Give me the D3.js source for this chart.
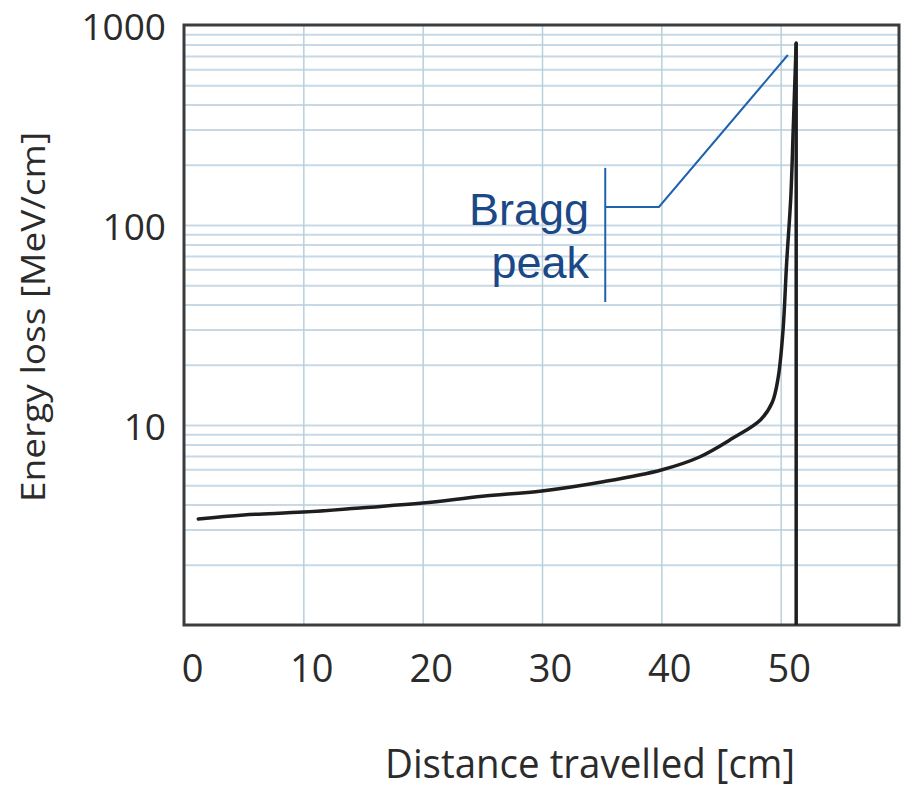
<!DOCTYPE html>
<html>
<head>
<meta charset="utf-8">
<script src="https://cdn.jsdelivr.net/npm/d3@7"></script>
<style>
  html, body { margin: 0; padding: 0; background: #ffffff; }
  svg { display: block; }
</style>
</head>
<body>
<svg id="chart" width="903" height="792"></svg>
<script>
// ---- Data ----
const distance   = [1.2, 5, 10, 15, 20, 25, 30, 35, 40, 43.2, 46.0, 48.3, 49.3, 49.8, 50.2, 50.5, 50.85, 51.05, 51.3];
const energyLoss = [3.39, 3.55, 3.67, 3.86, 4.07, 4.4, 4.68, 5.19, 5.96, 6.92, 8.6, 10.6, 13, 17.4, 29.9, 64.6, 138, 298, 813];
const xTickValues = [0, 10, 20, 30, 40, 50];
const yTickValues = [10, 100, 1000];
const xTitle = "Distance travelled [cm]";
const yTitle = "Energy loss [MeV/cm]";
const annotationLines = ["Bragg", "peak"];

// ---- Layout ----
const svg = d3.select("#chart");
const plot = { left: 184, right: 900, top: 25, bottom: 625 };

const x = d3.scaleLinear().domain([0, 60]).range([plot.left, plot.right]);
const y = d3.scaleLog().domain([1, 1000]).range([plot.bottom, plot.top]);

// Grid: horizontal (log minor lines)
const yGridVals = y.ticks().filter(v => v > 1 && v < 1000);
svg.append("g")
  .attr("transform", `translate(${plot.left},0)`)
  .call(d3.axisLeft(y).tickValues(yGridVals).tickSize(-(plot.right - plot.left)).tickFormat(""))
  .call(g => g.select(".domain").remove())
  .call(g => g.selectAll("line").attr("stroke", "#c8d9e5").attr("stroke-width", 2));

// Grid: vertical
svg.append("g")
  .attr("transform", `translate(0,${plot.bottom})`)
  .call(d3.axisBottom(x).tickValues([10, 20, 30, 40, 50]).tickSize(-(plot.bottom - plot.top)).tickFormat(""))
  .call(g => g.select(".domain").remove())
  .call(g => g.selectAll("line").attr("stroke", "#b8cfdc").attr("stroke-width", 1.5));

// Plot border
svg.append("rect")
  .attr("x", plot.left).attr("y", plot.top)
  .attr("width", plot.right - plot.left - 1).attr("height", plot.bottom - plot.top)
  .attr("fill", "none").attr("stroke", "#3a3d40").attr("stroke-width", 3);

// Y tick labels
svg.append("g")
  .attr("transform", `translate(${plot.left},0)`)
  .call(d3.axisLeft(y).tickValues(yTickValues).tickSize(0).tickPadding(18).tickFormat(d3.format("d")))
  .call(g => g.select(".domain").remove())
  .call(g => g.selectAll("text")
      .attr("font-family", "'Open Sans', sans-serif")
      .attr("font-size", 37)
      .attr("fill", "#2b2b2b")
      .attr("dy", "0.38em"));

// X tick labels
svg.append("g")
  .attr("transform", `translate(0,${plot.bottom})`)
  .call(d3.axisBottom(x).tickValues(xTickValues).tickSize(0).tickPadding(30).tickFormat(d3.format("d")))
  .call(g => g.select(".domain").remove())
  .call(g => g.selectAll("text")
      .attr("font-family", "'Open Sans', sans-serif")
      .attr("font-size", 38)
      .attr("fill", "#2b2b2b")
      .attr("dx", 8));

// Axis titles
svg.append("text")
  .attr("x", 590).attr("y", 778)
  .attr("text-anchor", "middle")
  .attr("font-family", "'Open Sans', sans-serif")
  .attr("font-size", 41)
  .attr("fill", "#2b2b2b")
  .attr("textLength", 410)
  .attr("lengthAdjust", "spacingAndGlyphs")
  .text(xTitle);

svg.append("text")
  .attr("transform", "translate(45,317) rotate(-90)")
  .attr("text-anchor", "middle")
  .attr("font-family", "'Open Sans', sans-serif")
  .attr("font-size", 33)
  .attr("fill", "#2b2b2b")
  .attr("textLength", 370)
  .attr("lengthAdjust", "spacingAndGlyphs")
  .text(yTitle);

// Curve
const pts = distance.map((d, i) => [d, energyLoss[i]]);
const line = d3.line().x(d => x(d[0])).y(d => y(d[1])).curve(d3.curveCatmullRom.alpha(0.5));
svg.append("path")
  .datum(pts)
  .attr("d", line)
  .attr("fill", "none")
  .attr("stroke", "#1e1e1e")
  .attr("stroke-width", 3.5)
  .attr("stroke-linejoin", "round")
  .attr("stroke-linecap", "round");

// Drop after the peak
const peak = pts[pts.length - 1];
svg.append("line")
  .attr("x1", x(peak[0])).attr("y1", y(peak[1]))
  .attr("x2", x(peak[0])).attr("y2", y(1))
  .attr("stroke", "#1e1e1e")
  .attr("stroke-width", 3.5);

// Annotation (anchors expressed in data units)
const annColor = "#1f63ad";
const bracketX = 35.3, bracketTop = 193, bracketBottom = 41.2, bracketMid = 123;
const elbowX = 39.8, tipX = 50.6, tipY = 708;
svg.append("line")
  .attr("x1", x(bracketX)).attr("x2", x(bracketX))
  .attr("y1", y(bracketTop)).attr("y2", y(bracketBottom))
  .attr("stroke", annColor).attr("stroke-width", 2);
svg.append("polyline")
  .attr("points", [[x(bracketX), y(bracketMid)], [x(elbowX), y(bracketMid)], [x(tipX), y(tipY)]].map(p => p.join(",")).join(" "))
  .attr("fill", "none").attr("stroke", annColor).attr("stroke-width", 2);

const textX = 33.95, textBaselines = [100, 54.3];
svg.selectAll("text.ann")
  .data(annotationLines)
  .join("text")
  .attr("class", "ann")
  .attr("x", x(textX))
  .attr("y", (d, i) => y(textBaselines[i]))
  .attr("text-anchor", "end")
  .attr("font-family", "'Liberation Sans', Arial, sans-serif")
  .attr("font-size", 45)
  .attr("fill", "#1b4886")
  .text(d => d);
</script>
</body>
</html>
